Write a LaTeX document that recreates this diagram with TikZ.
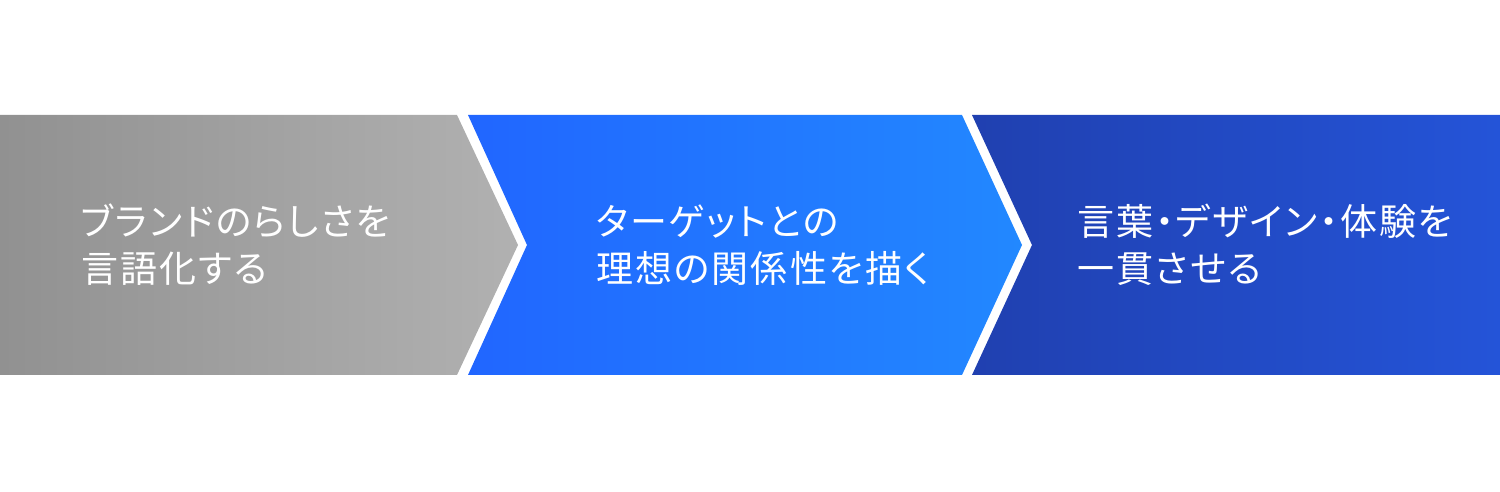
\documentclass[tikz,border=0pt]{standalone}
\usepackage{fontspec}
\newfontfamily\jpfont[RawFeature=+palt, LetterSpace=5.5]{Noto Sans CJK JP}
\definecolor{grayL}{HTML}{919191}
\definecolor{grayR}{HTML}{B1B1B1}
\definecolor{blueL}{HTML}{2166FF}
\definecolor{blueR}{HTML}{2288FF}
\definecolor{navyL}{HTML}{2040B0}
\definecolor{navyR}{HTML}{2454D8}
\begin{document}
\begin{tikzpicture}[
  x=1pt, y=1pt,
  label/.style={anchor=west, inner sep=0pt, align=left, text=white,
    font=\jpfont\fontsize{37}{47}\selectfont}
]
\useasboundingbox (0,0) rectangle (1500,492);

% Chevrons
\shade[left color=grayL, right color=grayR]
  (0,377) -- (457,377) -- (518,247) -- (457,117) -- (0,117) -- cycle;
\shade[left color=blueL, right color=blueR]
  (468,377) -- (962,377) -- (1022,247) -- (962,117) -- (468,117) -- (527,247) -- cycle;
\shade[left color=navyL, right color=navyR]
  (972,377) -- (1500,377) -- (1500,117) -- (972,117) -- (1032,247) -- cycle;

% Labels
\node[label] (step1) at (81,247) {ブランドのらしさを\\言語化する};
\node[label] (step2) at (596,247) {ターゲットとの\\理想の関係性を描く};
\node[label] (step3) at (1077,247) {言葉・デザイン・体験を\\一貫させる};

\end{tikzpicture}
\end{document}
